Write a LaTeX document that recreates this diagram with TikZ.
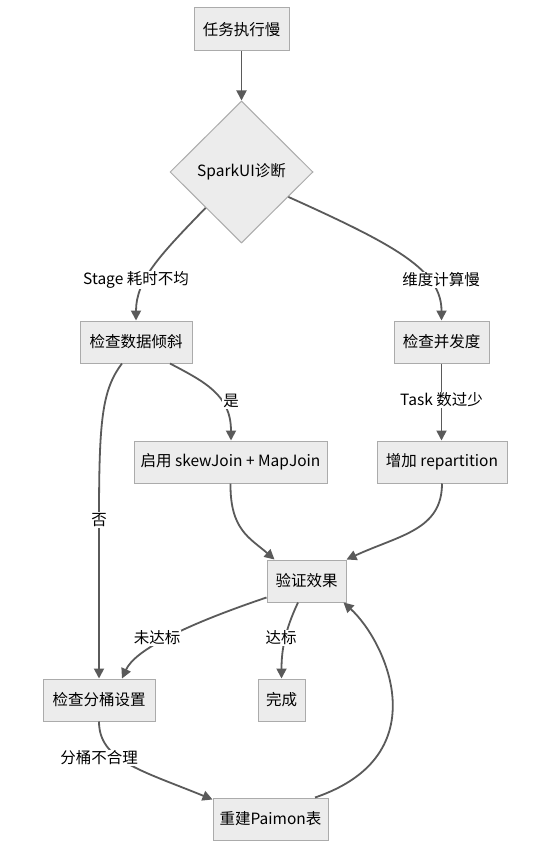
\documentclass[tikz,border=0pt]{standalone}
\usepackage{fontspec}
\setmainfont{Noto Sans CJK SC}
\usetikzlibrary{shapes.geometric,arrows.meta,calc}
\definecolor{boxfill}{HTML}{ECECEC}
\definecolor{boxline}{HTML}{ABABAB}
\definecolor{edgecol}{HTML}{5A5A5A}
\begin{document}
\begin{tikzpicture}[x=1pt,y=-1pt,
  txt/.style={font=\fontsize{15.5}{19}\selectfont, text=black},
  box/.style={txt, draw=boxline, fill=boxfill, line width=1pt, inner sep=0pt},
  dia/.style={txt, diamond, draw=boxline, fill=boxfill, line width=1pt, inner sep=0pt, minimum width=143pt, minimum height=142pt},
  conn/.style={draw=edgecol, line width=1.8pt, -{Triangle[length=10pt,width=10pt]}},
  lbl/.style={txt, fill=white, inner sep=1pt}]
\path[fill=white, use as bounding box] (0,0) rectangle (552,856);

\node[box, minimum width=95pt, minimum height=43pt] (a) at (241.5,29.5) {任务执行慢};
\node[dia] (d) at (241.5,172) {SparkUI诊断};
\node[box, minimum width=112pt, minimum height=42pt] (b) at (136,342) {检查数据倾斜};
\node[box, minimum width=95pt, minimum height=42pt] (c) at (441.5,342) {检查并发度};
\node[box, minimum width=193pt, minimum height=42pt] (e) at (230.5,462) {启用 skewJoin + MapJoin};
\node[box, minimum width=130pt, minimum height=42pt] (g) at (442,462) {增加 repartition};
\node[box, minimum width=79pt, minimum height=42pt] (h) at (306.5,581) {验证效果};
\node[box, minimum width=112pt, minimum height=42pt] (f) at (99,700) {检查分桶设置};
\node[box, minimum width=47pt, minimum height=42pt] (i) at (281.5,700) {完成};
\node[box, minimum width=115pt, minimum height=42pt] (j) at (270.5,819) {重建Paimon表};

\coordinate (l5) at (99,520);

\draw[conn] (a.south) -- (d.north);
\draw[conn] (d.225) .. controls (160,255) and (136,280) .. (b.north);
\draw[conn] (d.-28) .. controls (395,245) and (441.5,270) .. (c.north);
\draw[conn] ($(b.south)+(34,0)$) .. controls (205,382) and (231,395) .. ($(e.north)+(0.5,0)$);
\draw[conn] ($(b.south)+(-14,0)$) .. controls (102,390) and (99,420) .. (l5) -- (f.north);
\draw[conn] (c.south) -- ($(g.north)+(-0.5,0)$);
\draw[conn] (e.south) .. controls (230,530) and (250,538) .. ($(h.north west)+(8,0)$);
\draw[conn] (g.south) .. controls (442,530) and (400,535) .. (h.north east);
\draw[conn] ($(h.south west)+(0,-5)$) .. controls (185,625) and (135,650) .. ($(f.north)+(23,0)$);
\draw[conn] ($(h.south)+(-8.5,0)$) .. controls (285,630) and (281.5,650) .. (i.north);
\draw[conn] (f.south) .. controls (99,760) and (140,770) .. ($(j.north west)+(0,2)$);
\draw[conn] ($(j.north)+(44.5,0)$) .. controls (440,755) and (385,640) .. ($(h.south east)+(-3,0)$);

\node[lbl] (t1) at (136,280) {Stage 耗时不均};
\node[lbl] (t2) at (441,280) {维度计算慢};
\node[lbl] (t3) at (231,401) {是};
\node[lbl] (t4) at (441.5,400) {Task 数过少};
\node[lbl] (t5) at (l5) {否};
\node[lbl] (t6) at (157,638) {未达标};
\node[lbl] (t7) at (281,638) {达标};
\node[lbl] (t8) at (99,758) {分桶不合理};
\end{tikzpicture}
\end{document}
